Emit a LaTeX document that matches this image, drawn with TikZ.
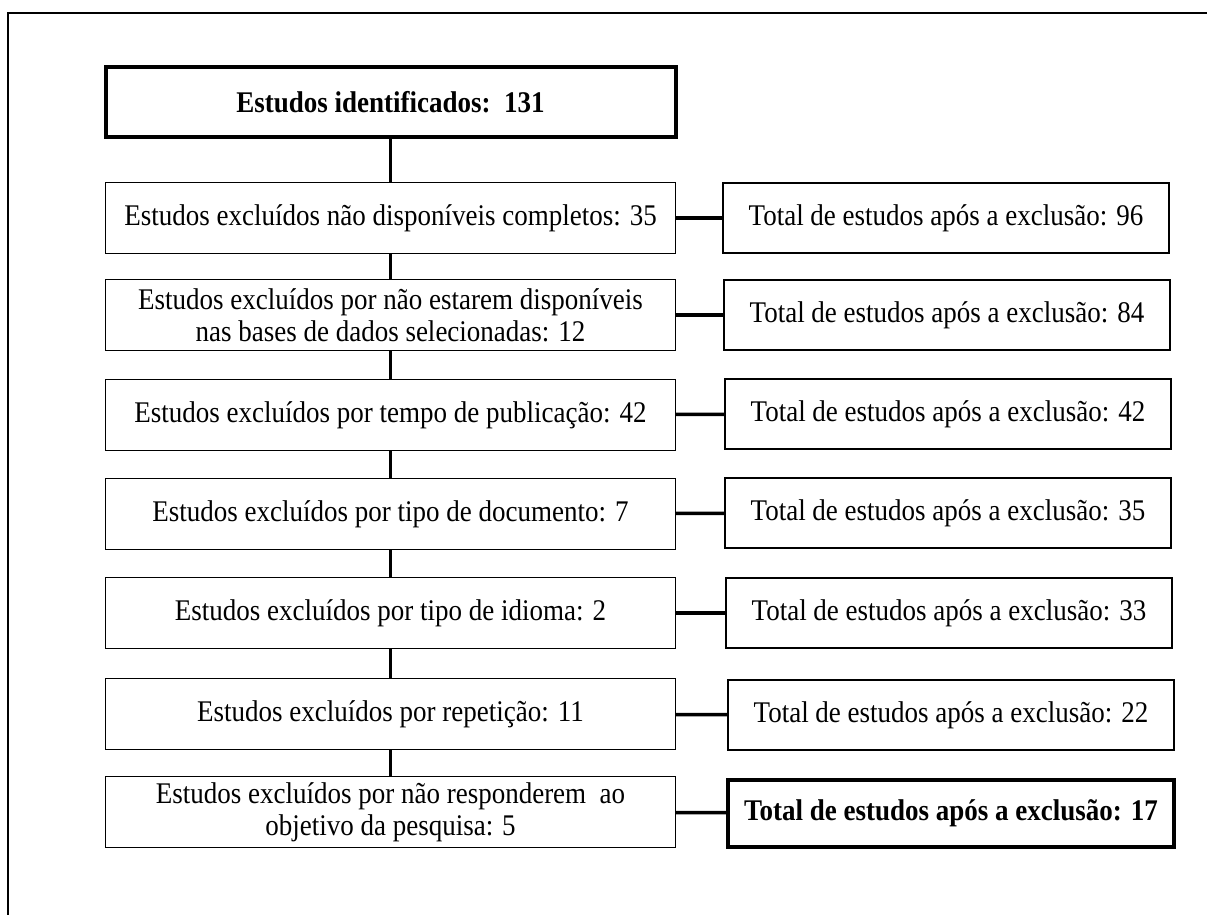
\documentclass[tikz,border=0pt]{standalone}
\usepackage{fontspec}
\setmainfont{Liberation Serif}[FakeStretch=0.9]
\usepackage{tikz}

\tikzset{
  exbox/.style={draw,line width=1.3pt,minimum width=570pt,minimum height=71pt,inner sep=0pt,align=center,
    font=\fontsize{30}{32}\selectfont},
  totbox/.style={draw,line width=1.3pt,minimum width=446pt,minimum height=70pt,inner sep=0pt,align=center,
    font=\fontsize{30}{32}\selectfont},
  link/.style={line width=3.5pt}
}

\begin{document}
\begin{tikzpicture}[x=1pt,y=-1pt]
\useasboundingbox (0,0) rectangle (1207,915);

% outer frame
\draw[line width=2pt] (8,915) -- (8,13) -- (1207,13);

% identified studies
\node[exbox,line width=4pt,minimum height=70pt,font=\fontsize{30}{32}\selectfont\bfseries] (ident) at (390.5,102) {Estudos identificados:\ \ 131};

% exclusion steps
\node[exbox] (ex1) at (390.5,218) {Estudos excluídos não disponíveis completos: 35};
\node[exbox] (ex2) at (390.5,315) {Estudos excluídos por não estarem disponíveis\\nas bases de dados selecionadas: 12};
\node[exbox] (ex3) at (390.5,415) {Estudos excluídos por tempo de publicação: 42};
\node[exbox] (ex4) at (390.5,514) {Estudos excluídos por tipo de documento: 7};
\node[exbox] (ex5) at (390.5,613) {Estudos excluídos por tipo de idioma: 2};
\node[exbox] (ex6) at (390.5,714) {Estudos excluídos por repetição: 11};
\node[exbox] (ex7) at (390.5,812) {Estudos excluídos por não responderem\ \ ao\\objetivo da pesquisa: 5};

% totals after exclusion
\node[totbox] (tot1) at (946,218) {Total de estudos após a exclusão: 96};
\node[totbox] (tot2) at (947,315) {Total de estudos após a exclusão: 84};
\node[totbox] (tot3) at (948,414) {Total de estudos após a exclusão: 42};
\node[totbox] (tot4) at (948,513) {Total de estudos após a exclusão: 35};
\node[totbox] (tot5) at (949,613) {Total de estudos após a exclusão: 33};
\node[totbox] (tot6) at (951,715) {Total de estudos após a exclusão: 22};
\node[totbox,line width=4pt,minimum height=67pt,font=\fontsize{30}{32}\selectfont\bfseries] (tot7) at (951,813) {Total de estudos após a exclusão: 17};

% connectors
\draw[link] (ident) -- (ex1);
\foreach \i/\j in {1/2,2/3,3/4,4/5,5/6,6/7}
    \draw[link] (ex\i) -- (ex\j);
\foreach \i in {1,...,7}
    \draw[link] (ex\i) -- (tot\i);
\end{tikzpicture}
\end{document}
